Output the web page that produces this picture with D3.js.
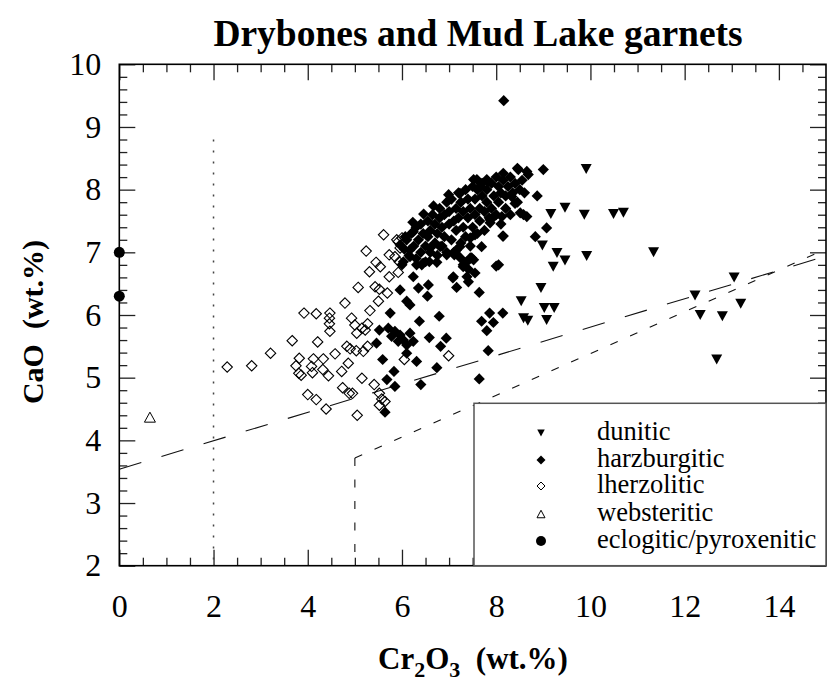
<!DOCTYPE html>
<html><head><meta charset="utf-8">
<script src="https://cdn.jsdelivr.net/npm/d3@7"></script>
<style>body{margin:0;background:#fff}svg{display:block}text{font-family:"Liberation Serif","Times New Roman",serif;fill:#000}</style>
</head><body><svg id="c" width="827" height="682"></svg>
<script>
// ---- data (Cr2O3 wt.%, CaO wt.%) ----
const dunitic = [[9.91,8.33],[9.16,7.61],[9.46,7.71],[9.87,7.60],[10.49,7.61],[10.70,7.63],[8.98,7.11],[9.29,6.99],[9.46,6.87],[9.21,6.77],[9.92,6.94],[11.34,7.00],[8.95,6.43],[8.53,6.22],[9.02,6.11],[9.23,6.11],[8.58,5.95],[8.67,5.91],[9.07,5.92],[13.05,6.60],[12.22,6.31],[13.19,6.18],[12.33,6.00],[12.80,5.98],[12.68,5.29]];
const harzburgitic = [[8.16,9.42],
[6.24,6.61],[5.96,6.40],[6.35,6.43],[6.56,6.48],[6.54,6.30],[6.10,6.22],[6.17,6.16],[5.75,6.03],[6.37,5.90],[6.79,5.98],[7.08,6.59],[7.16,6.44],[7.41,6.53],[7.64,6.36],[7.86,6.03],[8.14,6.03],[7.69,5.90],[7.94,5.88],[7.80,5.75],
[5.52,5.76],[5.71,5.79],[5.85,5.74],[5.96,5.68],[6.03,5.60],[6.17,5.71],[6.24,5.58],[6.10,5.52],[5.78,5.66],[5.92,5.58],[5.46,5.55],[6.58,5.64],[6.94,5.63],[6.82,5.50],[6.10,5.39],[5.59,5.29],[6.31,5.26],[5.83,5.10],[6.74,5.16],[5.68,4.97],[5.85,4.86],[6.40,4.89],[7.64,4.98],[7.83,5.43],[5.64,4.45],
[8.00,6.78],[6.31,6.80],[6.45,6.83],[6.58,6.85],[6.74,6.84],[6.95,6.96],[7.11,6.96],[7.24,6.91],[7.38,6.85],[7.48,6.91],[7.30,6.77],[7.41,6.73],
[9.00,8.32],[8.87,7.90],[8.58,7.60],[8.65,7.57],[9.07,7.39],[8.83,7.25],[8.14,7.26],[8.05,6.80],[7.94,7.56],[7.87,7.47],[8.40,7.78],[8.33,7.89],[8.68,8.24],[8.47,8.32],[7.69,7.09],
[6.23,7.48],[6.46,7.61],[6.67,7.74],[6.99,7.92],[7.59,8.16],[7.83,8.13],[8.15,8.26],[8.45,8.34],[8.65,8.29],[8.51,7.63],[8.12,7.57],[8.15,7.26],[7.87,7.52],[7.55,7.28],[7.45,7.23],[7.23,7.09],[7.13,6.99],[7.45,6.91],[7.30,6.80],[6.81,7.09],[6.60,7.07],[6.42,6.80],[6.17,7.04],[6.00,6.80],[6.24,7.33],[6.07,7.25],[5.96,7.12],[7.23,7.94],[7.52,8.16],[7.80,8.16],[7.66,8.05],
[6.03,6.85],[6.17,6.93],[7.09,6.61],[7.38,6.61],[7.52,6.88],[7.16,7.04],[7.55,6.67],
[6.05,7.05],[6.10,7.20],[6.15,6.95],[6.20,7.30],[6.25,7.10],[6.30,7.40],[6.30,6.90],[6.35,7.20],[6.40,7.00],[6.40,7.45],[6.45,7.30],[6.50,7.10],[6.50,6.85],[6.55,7.50],[6.55,7.25],
[6.60,7.00],[6.60,7.35],[6.65,7.60],[6.70,7.15],[6.70,7.45],[6.75,6.95],[6.75,7.30],[6.80,7.55],[6.80,7.70],[6.85,7.10],[6.85,7.40],[6.90,7.25],[6.90,7.60],[6.95,7.80],[6.95,7.00],[7.00,7.45],[7.00,7.65],
[7.05,7.20],[7.05,7.85],[7.10,7.50],[7.10,7.00],[7.15,7.70],[7.15,7.35],[7.20,7.95],[7.20,7.55],[7.25,7.15],[7.25,7.80],[7.30,7.40],[7.30,7.65],[7.35,8.00],[7.35,7.25],[7.40,7.55],[7.40,7.85],[7.45,7.10],[7.45,7.70],[7.50,7.40],[7.50,8.05],
[7.55,7.60],[7.55,7.85],[7.60,7.30],[7.60,8.00],[7.65,7.70],[7.65,7.50],[7.70,7.90],[7.70,8.10],[7.75,7.35],[7.75,7.65],[7.80,7.80],[7.80,8.00],[7.85,7.55],[7.90,7.70],[7.90,8.10],[7.95,7.90],[8.00,7.60],[8.00,8.20],
[8.05,7.80],[8.05,8.05],[8.10,7.45],[8.10,7.95],[8.15,8.15],[8.20,7.70],[8.20,7.90],[8.25,8.05],[8.30,8.20],[8.30,7.60],[8.35,7.95],[8.40,8.10],[8.45,7.80],[8.50,8.00],[8.55,8.15],[8.60,7.95]];
const lherzolitic = [[2.29,5.17],[2.81,5.19],[3.21,5.39],[3.67,5.59],[3.92,6.03],[4.18,6.02],[4.21,5.57],[4.47,6.03],[4.46,5.95],[4.46,5.86],[4.47,5.74],[4.79,6.19],[3.82,5.31],[3.75,5.19],[3.81,5.07],[3.86,5.04],[4.12,5.30],[4.08,5.18],[4.10,5.08],[4.33,5.30],[4.32,5.13],[4.44,5.03],[4.58,5.38],[4.72,5.10],[4.83,5.50],[4.00,4.73],[4.18,4.65],[4.39,4.50],[4.74,4.84],[4.88,4.75],
[5.24,7.02],[5.31,6.69],[5.07,6.44],[4.93,5.95],[5.00,5.84],[5.04,5.71],[5.15,5.79],[5.22,5.76],[5.27,5.86],[4.90,5.46],[5.03,5.43],[5.18,5.42],[5.27,5.50],[4.86,5.23],[5.15,4.99],[4.95,4.75],
[5.45,6.84],[5.54,6.77],[5.73,6.96],[5.85,6.93],[5.94,6.85],[5.73,6.61],[5.92,6.68],[5.52,6.41],[5.69,6.35],[5.50,6.22],[5.32,6.07],[5.41,4.89],[5.52,4.75],[5.57,4.66],[5.64,4.62],[5.52,4.56],[5.05,4.40],[6.05,5.29],[6.99,5.35],[5.61,7.28],[5.92,7.17],[5.96,7.07],[5.89,7.20],[6.00,7.23],[5.43,6.45]];
const websteritic = [[0.65,4.37]];
const eclogitic = [[0,7.0],[0,6.3]];
const legendLabels = ["dunitic","harzburgitic","lherzolitic","websteritic","eclogitic/pyroxenitic"];
const xTicks = [0,2,4,6,8,10,12,14];
const yTicks = [2,3,4,5,6,7,8,9,10];
// reference lines
const dottedLine = [[2,8.8],[2,2]];
const longDashLine = [[0,3.54],[15,6.94]];
const shortDashVert = [[5,3.72],[5,2]];
const shortDashSlant = [[5,3.72],[15,7.05]];

const svg = d3.select("#c");
const L=119.3,R=826,T=64.3,B=565.7;
const x = d3.scaleLinear().domain([0,15]).range([L,R]);
const y = d3.scaleLinear().domain([2,10]).range([B,T]);
const FF='"Liberation Serif","Times New Roman",serif';

// title
svg.append("text").attr("x",478).attr("y",46).attr("text-anchor","middle")
  .style("font-size","37.5px").style("font-weight","bold").text("Drybones and Mud Lake garnets");

// axes ticks
const xMinor = d3.range(0,30).map(i=>i*0.5).filter(v=>v%2!==0);
const yMinor = d3.range(10,50).map(i=>i/5).filter(v=>Math.abs(v-Math.round(v))>1e-6);
function styleAxis(g){g.attr("font-family",FF);g.select(".domain").remove();g.selectAll("line").attr("stroke","#222").attr("stroke-width",1.3);
  g.selectAll("text").style("font-size","32px").style("font-family",FF).attr("fill","#000");}
svg.append("g").attr("transform",`translate(0,${B})`).call(d3.axisBottom(x).tickValues(xTicks).tickSize(-16).tickPadding(29).tickFormat(d3.format("d"))).call(styleAxis);
svg.append("g").attr("transform",`translate(0,${B})`).call(d3.axisBottom(x).tickValues(xMinor).tickSize(-8).tickFormat("")).call(styleAxis);
svg.append("g").attr("transform",`translate(0,${T})`).call(d3.axisTop(x).tickValues(xTicks).tickSize(-16).tickFormat("")).call(styleAxis);
svg.append("g").attr("transform",`translate(0,${T})`).call(d3.axisTop(x).tickValues(xMinor).tickSize(-8).tickFormat("")).call(styleAxis);
svg.append("g").attr("transform",`translate(${L},0)`).call(d3.axisLeft(y).tickValues(yTicks).tickSize(-16).tickPadding(18).tickFormat(d3.format("d"))).call(styleAxis);
svg.append("g").attr("transform",`translate(${L},0)`).call(d3.axisLeft(y).tickValues(yMinor).tickSize(-8).tickFormat("")).call(styleAxis);
svg.append("g").attr("transform",`translate(${R},0)`).call(d3.axisRight(y).tickValues(yTicks).tickSize(-16).tickFormat("")).call(styleAxis);
svg.append("g").attr("transform",`translate(${R},0)`).call(d3.axisRight(y).tickValues(yMinor).tickSize(-8).tickFormat("")).call(styleAxis);

// reference lines
const line = d3.line().x(d=>x(d[0])).y(d=>y(d[1]));
svg.append("path").attr("d",line(dottedLine)).attr("fill","none").attr("stroke","#444").attr("stroke-width",1.5).attr("stroke-dasharray","2,9");
svg.append("path").attr("d",line(longDashLine)).attr("fill","none").attr("stroke","#111").attr("stroke-width",1.1).attr("stroke-dasharray","23,21");
svg.append("path").attr("d",line(shortDashVert)).attr("fill","none").attr("stroke","#111").attr("stroke-width",1.1).attr("stroke-dasharray","8,13.5");
svg.append("path").attr("d",line(shortDashSlant)).attr("fill","none").attr("stroke","#111").attr("stroke-width",1.1).attr("stroke-dasharray","8,13.5");

// symbols
const diamond=(r)=>`M0,${-r}L${r},0L0,${r}L${-r},0Z`;
const triDown=(w,h)=>`M${-w/2},${-h/2}L${w/2},${-h/2}L0,${h/2}Z`;
const triUp=(w,h)=>`M${-w/2},${h/2}L${w/2},${h/2}L0,${-h/2}Z`;
const pts = svg.append("g");
pts.selectAll(".dun").data(dunitic).join("path").attr("transform",d=>`translate(${x(d[0])},${y(d[1])})`).attr("d",triDown(11,10)).attr("fill","#000");
pts.selectAll(".harz").data(harzburgitic).join("path").attr("class","harz").attr("transform",d=>`translate(${x(d[0])},${y(d[1])})`).attr("d",diamond(5.6)).attr("fill","#000");
pts.selectAll(".lherz").data(lherzolitic).join("path").attr("class","lherz").attr("transform",d=>`translate(${x(d[0])},${y(d[1])})`).attr("d",diamond(5.2)).attr("fill","none").attr("stroke","#000").attr("stroke-width",1.1);
pts.selectAll(".web").data(websteritic).join("path").attr("class","web").attr("transform",d=>`translate(${x(d[0])},${y(d[1])})`).attr("d",triUp(11,10)).attr("fill","none").attr("stroke","#000").attr("stroke-width",1);
pts.selectAll(".ecl").data(eclogitic).join("circle").attr("class","ecl").attr("cx",d=>x(d[0])).attr("cy",d=>y(d[1])).attr("r",5.5).attr("fill","#000");

// frame
svg.append("rect").attr("x",L).attr("y",T).attr("width",R-L).attr("height",B-T).attr("fill","none").attr("stroke","#000").attr("stroke-width",1.6);

// legend
svg.append("rect").attr("x",474).attr("y",403.3).attr("width",R-474).attr("height",B-403.3).attr("fill","#fff").attr("stroke","#555").attr("stroke-width",1.5);
const legY=[433,460,486,514,541];
const legSym=[
  g=>g.append("path").attr("d",triDown(7.5,7)).attr("fill","#000"),
  g=>g.append("path").attr("d",diamond(4.5)).attr("fill","#000"),
  g=>g.append("path").attr("d",diamond(4)).attr("fill","none").attr("stroke","#000").attr("stroke-width",1),
  g=>g.append("path").attr("d",triUp(8,7.5)).attr("fill","none").attr("stroke","#000").attr("stroke-width",1),
  g=>g.append("circle").attr("r",5).attr("fill","#000")];
legendLabels.forEach((t,i)=>{
  const g=svg.append("g").attr("transform",`translate(541,${legY[i]})`);
  legSym[i](g);
  svg.append("text").attr("x",597).attr("y",legY[i]+7).style("font-size","26.5px").text(t);
});

// axis titles
const xt=svg.append("text").attr("x",473).attr("y",669).attr("text-anchor","middle").style("font-size","31px").style("font-weight","bold");
xt.append("tspan").text("Cr");
xt.append("tspan").attr("dy",8).style("font-size","22px").text("2");
xt.append("tspan").attr("dy",-8).text("O");
xt.append("tspan").attr("dy",8).style("font-size","22px").text("3");
xt.append("tspan").attr("dy",-8).text("\u00a0\u00a0(wt.%)");
svg.append("text").attr("transform","translate(43,322) rotate(-90)").attr("text-anchor","middle").style("font-size","30px").style("font-weight","bold").text("CaO\u00a0\u00a0(wt.%)");
</script></body></html>
